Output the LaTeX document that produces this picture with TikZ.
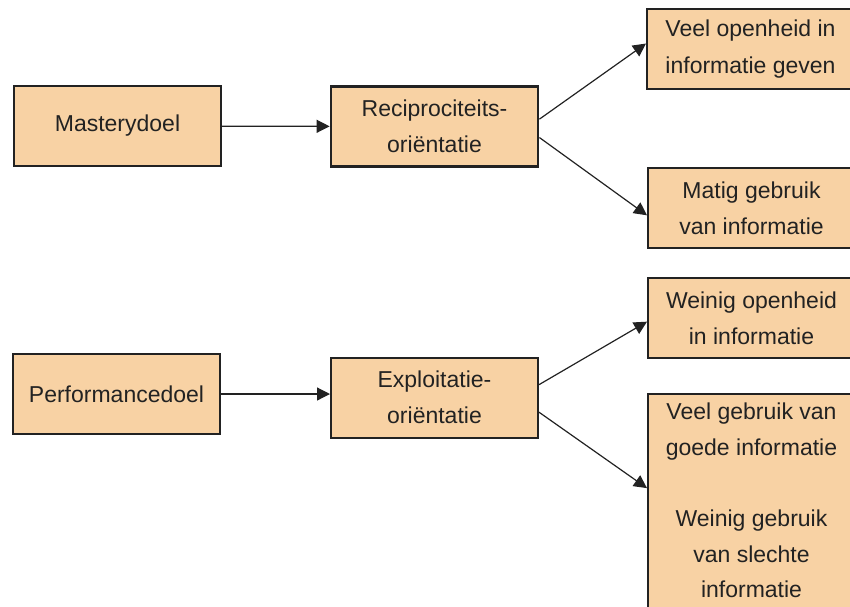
\documentclass[tikz,border=0pt]{standalone}
\usepackage{fontspec}
\setmainfont{Liberation Sans}
\usepackage{tikz}
\usetikzlibrary{arrows.meta}
\definecolor{peach}{HTML}{F8D2A4}
\definecolor{ink}{HTML}{222222}
\tikzset{>/.tip={Triangle[length=6.5pt,width=6.5pt]},
  box/.style={draw=ink, line width=1pt, fill=peach, text=ink, minimum width=103.5pt,
    minimum height=40pt, inner sep=0pt, align=center,
    font=\fontsize{11.5}{18.2}\selectfont}}

\begin{document}
\begin{tikzpicture}[x=0.5pt,y=-0.5pt]
\useasboundingbox (0,0) rectangle (850,606);
\clip (0,0) rectangle (850,606);
\node[box] (mastery) at (117.5,126) {Masterydoel};
\node[box,line width=1.4pt] (recip) at (434.5,126.5) {Reciprociteits-\\ori\"entatie};
\node[box] (veelopen) at (750.5,49) {Veel openheid in\\informatie geven};
\node[box] (matig) at (751.5,208) {Matig gebruik\\van informatie};
\node[box] (perf) at (116.5,394) {Performancedoel};
\node[box] (exploit) at (434.5,397.5) {Exploitatie-\\ori\"entatie};
\node[box] (weinigopen) at (751.5,318) {Weinig openheid\\in informatie};
\node[box,anchor=north,inner ysep=4.5pt,text depth=10pt,font=\fontsize{11.5}{17.8}\selectfont] (veelgebruik) at (751.5,393)
  {Veel gebruik van\\goede informatie\\[17.8pt]Weinig gebruik\\van slechte\\informatie};
\draw[->,ink,line width=0.6pt] (mastery) -- (recip);
\draw[->,ink,line width=0.6pt] (recip.4) -- (veelopen.177);
\draw[->,ink,line width=0.6pt] (recip.-6) -- (matig.184);
\draw[->,ink,line width=0.6pt] (perf.east) -- (perf.east -| exploit.west);
\draw[->,ink,line width=0.6pt] (exploit.7) -- (weinigopen.182);
\draw[->,ink,line width=0.6pt] (exploit.-8) -- (veelgebruik.168);
\end{tikzpicture}
\end{document}
